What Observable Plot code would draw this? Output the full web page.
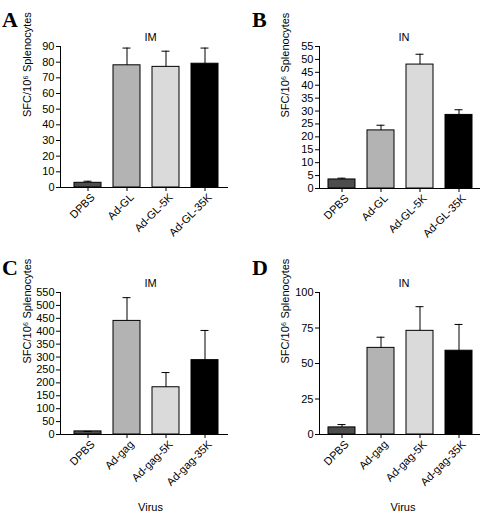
<!DOCTYPE html>
<html><head><meta charset="utf-8">
<script src="https://cdn.jsdelivr.net/npm/d3@7"></script>
<script src="https://cdn.jsdelivr.net/npm/@observablehq/plot@0.6"></script>
<style>
body{margin:0;background:#fff;}
#wrap{position:relative;width:486px;height:524px;overflow:hidden;}
.panel{position:absolute;width:243px;height:262px;}
.letter{position:absolute;font-family:"Liberation Serif","Times New Roman",serif;font-weight:bold;font-size:22px;line-height:1;}
</style></head>
<body>
<div id="wrap">
  <div class="panel" id="pA" style="left:0;top:0"></div>
  <div class="panel" id="pB" style="left:243px;top:0"></div>
  <div class="panel" id="pC" style="left:0;top:262px"></div>
  <div class="panel" id="pD" style="left:243px;top:262px"></div>
  <div class="letter" style="left:2px;top:9px">A</div>
  <div class="letter" style="left:252px;top:9px">B</div>
  <div class="letter" style="left:2px;top:257px">C</div>
  <div class="letter" style="left:252px;top:257px">D</div>
</div>
<script>
const groupsGL = ["DPBS", "Ad-GL", "Ad-GL-5K", "Ad-GL-35K"];
const groupsGag = ["DPBS", "Ad-gag", "Ad-gag-5K", "Ad-gag-35K"];
const barColors = ["#4d4d4d", "#b3b3b3", "#dadada", "#000000"];

const meanA = [3, 78, 77, 79];
const errA = [1, 11, 10, 10];
const ticksA = [0, 10, 20, 30, 40, 50, 60, 70, 80, 90];

const meanB = [3.5, 22.5, 48, 28.5];
const errB = [0.5, 2, 4, 2];
const ticksB = [0, 5, 10, 15, 20, 25, 30, 35, 40, 45, 50, 55];

const meanC = [12, 440, 183, 288];
const errC = [0, 90, 57, 115];
const ticksC = [0, 50, 100, 150, 200, 250, 300, 350, 400, 450, 500, 550];

const meanD = [5, 61, 73, 59];
const errD = [2, 7.5, 17, 18.5];
const ticksD = [0, 25, 50, 75, 100];

const yLabel = "SFC/10\u2076 Splenocytes";

function panel({groups, mean, err, ticks, title, xLabel, mL, mR, mT, mB, padOuter, align, titleDx, yLabelDx, xLabelDx}) {
  const data = groups.map((g, i) => ({group: g, mean: mean[i], top: mean[i] + err[i]}));
  const marks = [
    Plot.barY(data, {x: "group", y: "mean", fill: "group", stroke: "black", strokeWidth: 1}),
    Plot.ruleX(data, {x: "group", y1: "mean", y2: "top", stroke: "black", strokeWidth: 1}),
    Plot.tickY(data, {x: "group", y: "top", stroke: "black", strokeWidth: 1, insetLeft: 9.5, insetRight: 9.5}),
    Plot.ruleY([0], {stroke: "black", strokeWidth: 1}),
    Plot.frame({anchor: "left", stroke: "black", strokeWidth: 1}),
    Plot.axisY({ticks, tickSize: 4, tickPadding: 2, label: null}),
    Plot.axisX({tickSize: 4, text: null, label: null}),
    Plot.axisX({tickSize: 0, tickRotate: -45, tickPadding: 6, dx: 5, dy: 2, label: null}),
    Plot.text([title], {frameAnchor: "top", dy: -13, dx: titleDx, fontSize: 11}),
    Plot.text([yLabel], {frameAnchor: "left", rotate: -90, dx: yLabelDx, fontSize: 11})
  ];
  if (xLabel) marks.push(Plot.text([xLabel], {frameAnchor: "bottom", dy: 76, dx: xLabelDx, fontSize: 11}));
  return Plot.plot({
    width: 243, height: 262,
    marginLeft: mL, marginRight: mR, marginTop: mT, marginBottom: mB,
    style: {fontFamily: "'Liberation Sans', Arial, sans-serif", fontSize: "11px", color: "black", background: "white", overflow: "visible"},
    x: {domain: groups, paddingInner: 0.32, paddingOuter: padOuter, align},
    y: {domain: [0, ticks[ticks.length - 1]]},
    color: {domain: groups, range: barColors},
    marks
  });
}

document.getElementById("pA").append(panel({groups: groupsGL, mean: meanA, err: errA, ticks: ticksA, title: "IM", mL: 60, mR: 15, mT: 46, mB: 75, padOuter: 0.275, align: 0.59, titleDx: 6, yLabelDx: -33}));
document.getElementById("pB").append(panel({groups: groupsGL, mean: meanB, err: errB, ticks: ticksB, title: "IN", mL: 76, mR: 6, mT: 46, mB: 74, padOuter: 0.19, align: 0.5, titleDx: 4, yLabelDx: -34}));
document.getElementById("pC").append(panel({groups: groupsGag, mean: meanC, err: errC, ticks: ticksC, title: "IM", xLabel: "Virus", mL: 60, mR: 15, mT: 30, mB: 90, padOuter: 0.275, align: 0.59, titleDx: 6, yLabelDx: -33, xLabelDx: 6}));
document.getElementById("pD").append(panel({groups: groupsGag, mean: meanD, err: errD, ticks: ticksD, title: "IN", xLabel: "Virus", mL: 76, mR: 6, mT: 30, mB: 90, padOuter: 0.19, align: 0.5, titleDx: 4, yLabelDx: -34, xLabelDx: 3}));
</script>
</body></html>
